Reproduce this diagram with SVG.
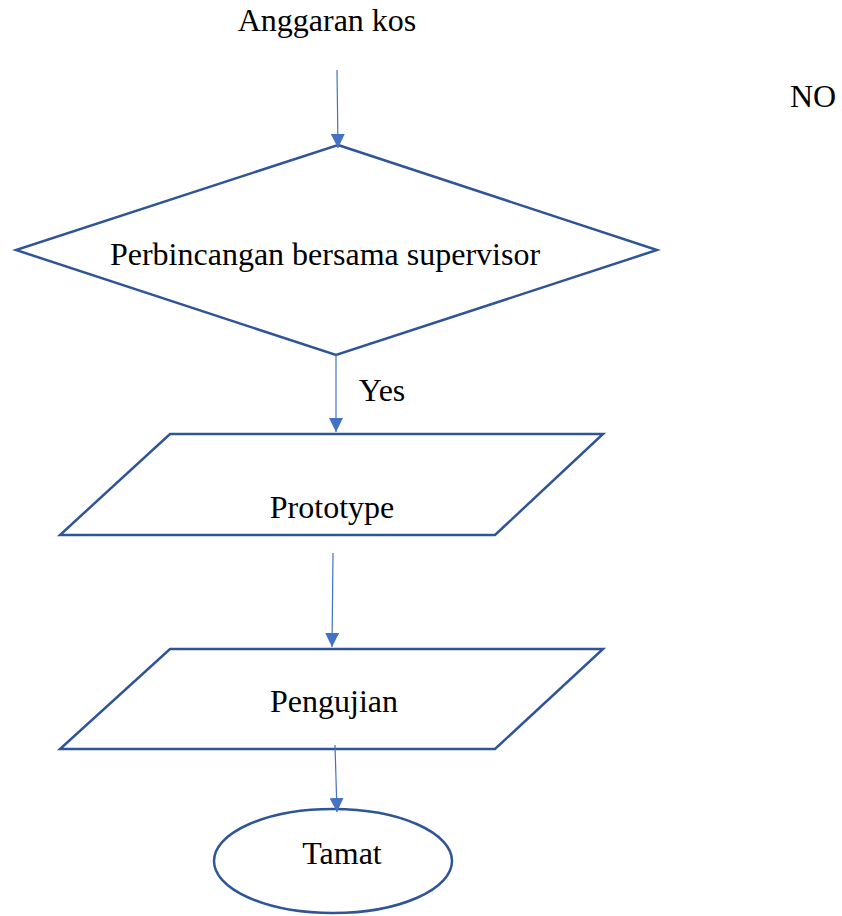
<svg xmlns="http://www.w3.org/2000/svg" width="842" height="916" viewBox="0 0 842 916">
<style>
.shape{fill:#ffffff;stroke:#2F5597;stroke-width:2.5;stroke-linejoin:miter}
.conn{stroke:#4472C4;stroke-width:1.2;fill:none}
text{font-family:"Liberation Serif","Times New Roman",serif;font-size:32px;fill:#000000}
</style>
<defs>
<marker id="arr" viewBox="0 0 14 14" refX="14" refY="7" markerWidth="14" markerHeight="14" markerUnits="userSpaceOnUse" orient="auto">
<path d="M0,0 L14,7 L0,14 Z" fill="#4472C4"/>
</marker>
</defs>
<rect width="842" height="916" fill="#ffffff"/>
<text x="327" y="31" text-anchor="middle">Anggaran kos</text>
<text x="813" y="107" text-anchor="middle">NO</text>
<g id="decision">
<polygon class="shape" points="338,145 657,250 336,355 16,250"/>
<text x="325" y="265" text-anchor="middle">Perbincangan bersama supervisor</text>
</g>
<g id="prototype">
<polygon class="shape" points="170,434 603,434 495,535 60,535"/>
<text x="332" y="518" text-anchor="middle">Prototype</text>
</g>
<g id="pengujian">
<polygon class="shape" points="170,649 603,649 495,749 60,749"/>
<text x="334" y="712" text-anchor="middle">Pengujian</text>
</g>
<g id="tamat">
<ellipse class="shape" cx="333" cy="861" rx="119" ry="52"/>
<text x="342" y="864" text-anchor="middle">Tamat</text>
</g>
<g id="connectors">
<line class="conn" x1="337" y1="70" x2="338" y2="148" marker-end="url(#arr)"/>
<line class="conn" x1="336" y1="355" x2="336" y2="432" marker-end="url(#arr)"/>
<text x="382" y="401" text-anchor="middle">Yes</text>
<line class="conn" x1="333" y1="553" x2="332" y2="647" marker-end="url(#arr)"/>
<line class="conn" x1="335" y1="745" x2="337" y2="812" marker-end="url(#arr)"/>
</g>
</svg>
